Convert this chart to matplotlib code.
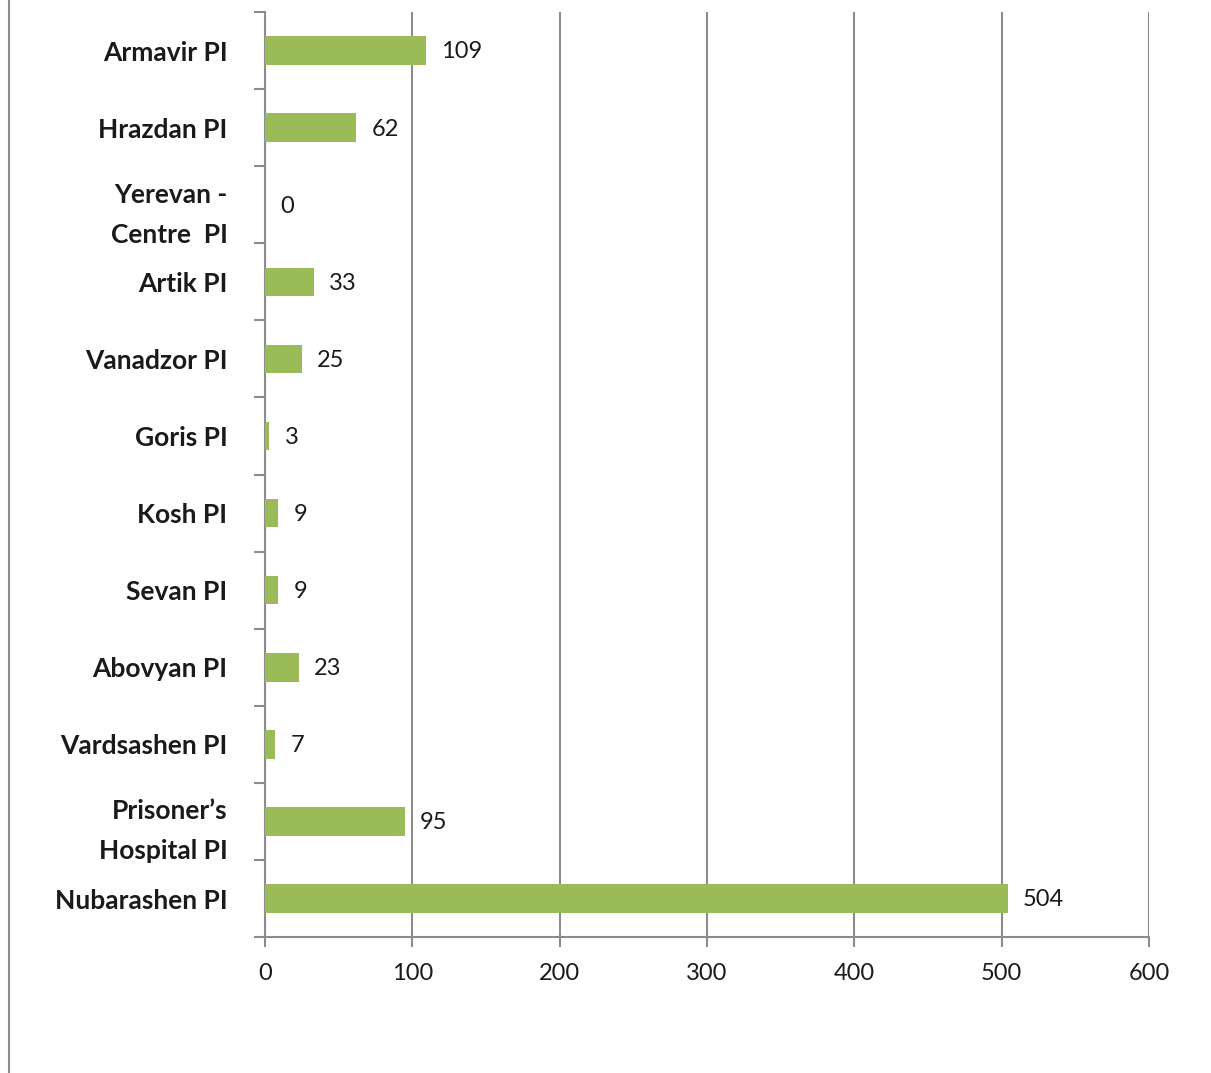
import matplotlib.pyplot as plt
from matplotlib.lines import Line2D
import numpy as np

# --- Data ---
categories = ["Armavir PI", "Hrazdan PI", "Yerevan -\nCentre  PI", "Artik PI", "Vanadzor PI",
              "Goris PI", "Kosh PI", "Sevan PI", "Abovyan PI", "Vardsashen PI",
              "Prisoner\u2019s\nHospital PI", "Nubarashen PI"]
values = [109, 62, 0, 33, 25, 3, 9, 9, 23, 7, 95, 504]
x_ticks = [0, 100, 200, 300, 400, 500, 600]

BAR_COLOR = "#9BBB59"
GRID_COLOR = "#8C8C8C"
TEXT_COLOR = "#1A1A1A"

fig = plt.figure(figsize=(12.11, 10.73), dpi=100)
ax = fig.add_axes([0.2188, 0.1267, 0.7300, 0.8621])

y = np.arange(len(categories))
ax.barh(y, values, height=0.37, color=BAR_COLOR, zorder=3)

ax.set_xlim(0, 600)
ax.set_ylim(len(categories) - 0.5, -0.5)

# value labels
for yi, v in zip(y, values):
    ax.annotate(str(v), (v, yi), xytext=(11, -1), textcoords="offset points",
                ha="left", va="center", fontsize=17, family="Lato", color=TEXT_COLOR)

# y axis: labels at centers, tick marks at boundaries
ax.set_yticks(y)
ax.set_yticklabels(categories, fontsize=19, family="Lato", fontweight="bold",
                   color=TEXT_COLOR, linespacing=1.8)
ax.tick_params(axis="y", which="major", length=0, pad=27)
ax.set_yticks(np.arange(len(categories) + 1) - 0.5, minor=True)
ax.tick_params(axis="y", which="minor", length=8, width=1.5, color=GRID_COLOR, direction="out")

# x axis
ax.set_xticks(x_ticks)
ax.set_xticklabels([str(t) for t in x_ticks], fontsize=17, family="Lato", color=TEXT_COLOR)
ax.tick_params(axis="x", length=7, width=1.5, color=GRID_COLOR, pad=12)

# gridlines
ax.grid(axis="x", color=GRID_COLOR, linewidth=1.5, zorder=0)
ax.set_axisbelow(True)

for side in ["top", "right"]:
    ax.spines[side].set_visible(False)
for side in ["left", "bottom"]:
    ax.spines[side].set_color(GRID_COLOR)
    ax.spines[side].set_linewidth(1.5)

# chart area border on the left
fig.add_artist(Line2D([0.0075, 0.0075], [0, 1], transform=fig.transFigure,
                      color=GRID_COLOR, linewidth=1.5))

fig.savefig("out.png", dpi=100)
